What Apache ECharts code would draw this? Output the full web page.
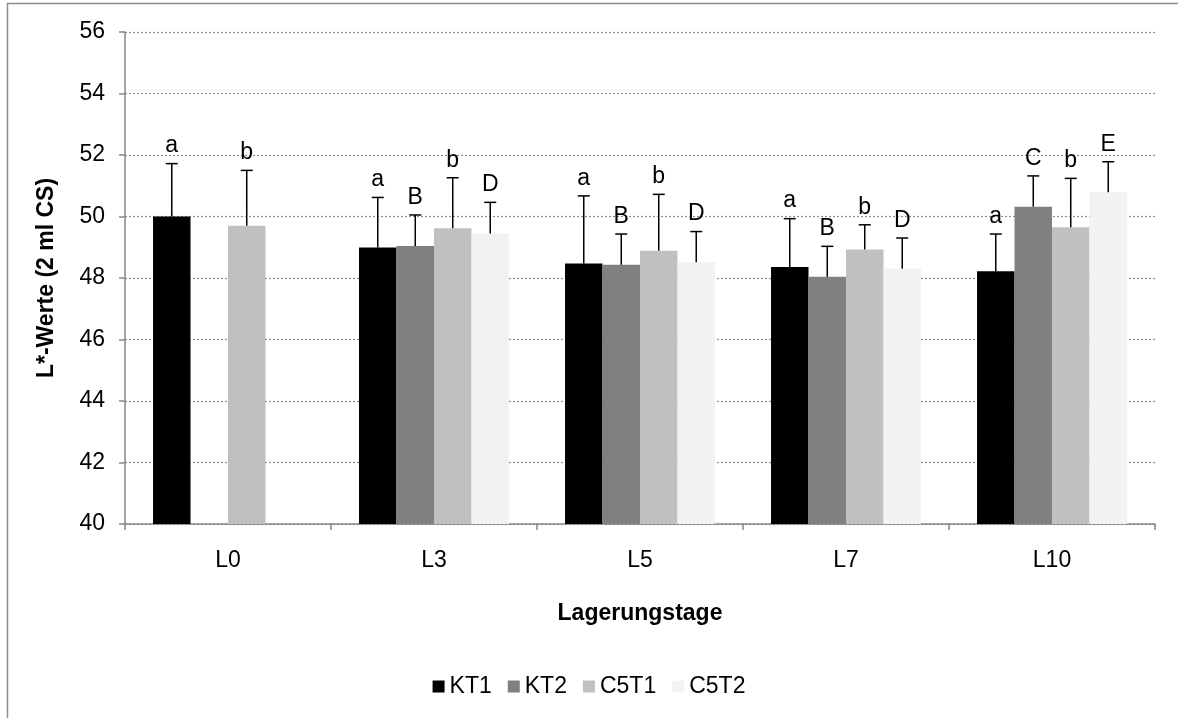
<!DOCTYPE html>
<html>
<head>
<meta charset="utf-8">
<script src="https://cdn.jsdelivr.net/npm/echarts@6/dist/echarts.min.js"></script>
<style>
html,body{margin:0;padding:0;background:#fff;}
#chart{width:1178px;height:718px;}
</style>
</head>
<body>
<div id="chart"></div>
<script>
const categories = ['L0', 'L3', 'L5', 'L7', 'L10'];
const seriesNames = ['KT1', 'KT2', 'C5T1', 'C5T2'];
const colors = ['#000000', '#808080', '#C0C0C0', '#F2F2F2'];

const KT1 = [50.0, 48.99, 48.47, 48.36, 48.22];
const KT2 = [null, 49.04, 48.43, 48.04, 50.32];
const C5T1 = [49.70, 49.62, 48.89, 48.93, 49.65];
const C5T2 = [null, 49.45, 48.51, 48.30, 50.79];

const KT1_err = [1.72, 1.63, 2.20, 1.57, 1.21];
const KT2_err = [null, 1.01, 1.00, 0.99, 1.00];
const C5T1_err = [1.80, 1.64, 1.83, 0.80, 1.59];
const C5T2_err = [null, 1.01, 1.00, 1.00, 0.99];

const KT1_lbl = ['a', 'a', 'a', 'a', 'a'];
const KT2_lbl = ['', 'B', 'B', 'B', 'C'];
const C5T1_lbl = ['b', 'b', 'b', 'b', 'b'];
const C5T2_lbl = ['', 'D', 'D', 'D', 'E'];

const yTicks = [40, 42, 44, 46, 48, 50, 52, 54, 56];

const values = [KT1, KT2, C5T1, C5T2];
const errs = [KT1_err, KT2_err, C5T1_err, C5T2_err];
const lbls = [KT1_lbl, KT2_lbl, C5T1_lbl, C5T2_lbl];

const CAT_GAP = 0.272;
const FONT = '"Liberation Sans", Arial, sans-serif';
const FS = 23;

const series = [];
values.forEach((vals, i) => {
  series.push({
    name: seriesNames[i],
    type: 'bar',
    data: vals,
    barGap: '0%',
    barCategoryGap: (CAT_GAP * 100) + '%',
    itemStyle: { color: colors[i] },
    emphasis: { disabled: true }
  });
});
values.forEach((vals, i) => {
  const data = [];
  vals.forEach((v, c) => {
    if (v !== null) data.push([c, v, v + errs[i][c], lbls[i][c]]);
  });
  series.push({
    type: 'custom',
    name: seriesNames[i] + '_err',
    z: 5,
    silent: true,
    data: data,
    renderItem: function (params, api) {
      const c = api.value(0);
      const base = api.coord([c, api.value(1)]);
      const top = api.coord([c, api.value(2)]);
      const catW = api.size([1, 0])[0];
      const bw = catW * (1 - CAT_GAP) / 4;
      const x = base[0] + (i - 1.5) * bw;
      const capW = 6;
      const letter = lbls[i][c];
      return {
        type: 'group',
        children: [
          { type: 'line', shape: { x1: x, y1: base[1], x2: x, y2: top[1] }, style: { stroke: '#000', lineWidth: 1.5 } },
          { type: 'line', shape: { x1: x - capW, y1: top[1], x2: x + capW, y2: top[1] }, style: { stroke: '#000', lineWidth: 1.5 } },
          { type: 'text', x: x, y: top[1] - 6, style: { text: letter, fill: '#000', font: FS + 'px ' + FONT, textAlign: 'center', textVerticalAlign: 'bottom' } }
        ]
      };
    }
  });
});

const chart = echarts.init(document.getElementById('chart'));
chart.setOption({
  animation: false,
  backgroundColor: '#fff',
  graphic: [{
    type: 'rect',
    shape: { x: 7.5, y: 3.5, width: 1300, height: 900 },
    style: { fill: 'none', stroke: '#8c8c8c', lineWidth: 1.5 },
    silent: true,
    z: -1
  }],
  grid: { left: 125, right: 23, top: 32, bottom: 194 },
  legend: {
    data: seriesNames,
    top: 670,
    left: 'center',
    itemWidth: 12,
    itemHeight: 12,
    itemGap: 16,
    icon: 'rect',
    textStyle: { fontSize: FS, color: '#000', fontFamily: FONT, padding: [0, 0, 0, 0] },
    selectedMode: false
  },
  xAxis: {
    type: 'category',
    data: categories,
    name: 'Lagerungstage',
    nameLocation: 'middle',
    nameGap: 78,
    nameTextStyle: { fontSize: FS, fontWeight: 'bold', color: '#000', fontFamily: FONT },
    axisLine: { lineStyle: { color: '#868686', width: 1.5 } },
    axisTick: { show: true, length: 6, lineStyle: { color: '#868686', width: 1.5 } },
    axisLabel: { fontSize: FS, color: '#000', fontFamily: FONT, margin: 25 }
  },
  yAxis: {
    type: 'value',
    min: yTicks[0],
    max: yTicks[yTicks.length - 1],
    interval: 2,
    name: 'L*-Werte (2 ml CS)',
    nameLocation: 'middle',
    nameGap: 67,
    nameTextStyle: { fontSize: FS, fontWeight: 'bold', color: '#000', fontFamily: FONT },
    axisLine: { show: true, lineStyle: { color: '#868686', width: 1.5 } },
    axisTick: { show: true, length: 6, lineStyle: { color: '#868686', width: 1.5 } },
    axisLabel: { fontSize: FS, color: '#000', fontFamily: FONT, margin: 20 },
    splitLine: { show: true, lineStyle: { color: '#8c8c8c', width: 1.2, type: [2, 2] } }
  },
  series: series
});
</script>
</body>
</html>
